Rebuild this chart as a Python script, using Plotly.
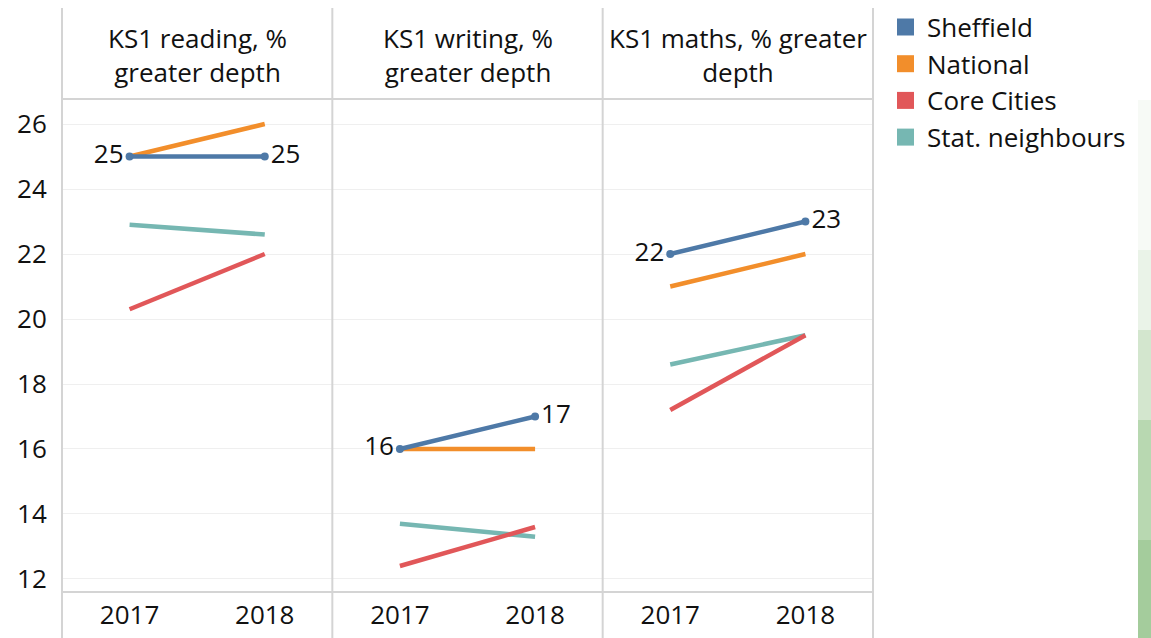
import plotly.graph_objects as go
from plotly.subplots import make_subplots

# 数据
years = ["2017", "2018"]
panels = ["KS1 reading, %<br>greater depth",
          "KS1 writing, %<br>greater depth",
          "KS1 maths, % greater<br>depth"]
series = ["Sheffield", "National", "Core Cities", "Stat. neighbours"]

sheffield = [[25, 25], [16, 17], [22, 23]]
national = [[25, 26], [16, 16], [21, 22]]
core_cities = [[20.3, 22.0], [12.4, 13.6], [17.2, 19.5]]
stat_neighbours = [[22.9, 22.6], [13.7, 13.3], [18.6, 19.5]]

y_ticks = [12, 14, 16, 18, 20, 22, 24, 26]

COLORS = {
    "Sheffield": "#4E79A7",
    "National": "#F28E2B",
    "Core Cities": "#E15759",
    "Stat. neighbours": "#76B7B2",
}
GRID = "#efefef"
BORDER = "#d4d4d4"
TEXT = "#111111"
FONT = "Open Sans"
FS = 26

W, H = 1151, 638
L, R, T, B = 62, 278, 99, 47
PW, PH = W - L - R, H - T - B


def px_x(x):
    return (x - L) / PW


def px_y(y):
    return (H - B - y) / PH


fig = make_subplots(rows=1, cols=3, shared_yaxes=True, horizontal_spacing=0)

# 绘制顺序：底层 -> 顶层
data_by_series = {
    "Stat. neighbours": stat_neighbours,
    "Core Cities": core_cities,
    "National": national,
    "Sheffield": sheffield,
}

for c in range(3):
    for name, vals in data_by_series.items():
        is_sheff = name == "Sheffield"
        fig.add_trace(go.Scatter(
            x=years,
            y=vals[c],
            mode="lines+markers+text" if is_sheff else "lines",
            name=name,
            showlegend=False,
            line=dict(color=COLORS[name], width=4.5),
            marker=dict(size=8, color=COLORS[name]),
            text=[f"{v:g}" for v in vals[c]] if is_sheff else None,
            textposition=["middle left", "middle right"],
            textfont=dict(family=FONT, size=FS, color=TEXT),
            cliponaxis=False,
            hoverinfo="skip",
        ), row=1, col=c + 1)

    fig.update_xaxes(
        type="category", range=[-0.5, 1.5], showgrid=False, zeroline=False,
        showline=True, linecolor=BORDER, linewidth=2, automargin=False,
        ticks="",
        tickfont=dict(family=FONT, size=FS, color=TEXT),
        row=1, col=c + 1,
    )

fig.update_yaxes(
    range=[11.63, 26.77], tickvals=y_ticks, showgrid=True, gridcolor=GRID,
    gridwidth=1, zeroline=False, showline=False, automargin=False,
    tickfont=dict(family=FONT, size=FS, color=TEXT),
)
fig.update_yaxes(ticks="outside", ticklen=9, tickcolor="rgba(0,0,0,0)", row=1, col=1)

shapes = []
# 面板分隔竖线
for xp in [0, 1 / 3, 2 / 3, 1]:
    shapes.append(dict(type="line", xref="paper", yref="paper",
                       x0=xp, x1=xp, y0=px_y(H), y1=px_y(8),
                       line=dict(color=BORDER, width=2)))
# 标题下横线
shapes.append(dict(type="line", xref="paper", yref="paper",
                   x0=0, x1=1, y0=1, y1=1, line=dict(color=BORDER, width=2)))

# 右侧绿色背景残影
for y0, y1, col in [(100, 250, "#f7faf6"), (250, 330, "#eaf3e8"), (330, 420, "#d3e6ce"),
                    (420, 540, "#b8d8b1"), (540, 638, "#a4cc9c")]:
    shapes.append(dict(type="rect", xref="paper", yref="paper",
                       x0=px_x(1138), x1=px_x(1152), y0=px_y(y1), y1=px_y(y0),
                       line=dict(width=0), fillcolor=col, layer="below"))

annotations = []
for i, t in enumerate(panels):
    annotations.append(dict(
        text=t, xref="paper", yref="paper", x=(i + 0.5) / 3, y=px_y(55),
        showarrow=False, xanchor="center", yanchor="middle",
        font=dict(family=FONT, size=FS, color=TEXT),
    ))

# 图例
for i, name in enumerate(series):
    yc = 27 + i * 36.7
    shapes.append(dict(type="rect", xref="paper", yref="paper",
                       x0=px_x(897), x1=px_x(914), y0=px_y(yc + 8.5), y1=px_y(yc - 8.5),
                       line=dict(width=0), fillcolor=COLORS[name]))
    annotations.append(dict(
        text=name, xref="paper", yref="paper", x=px_x(925), y=px_y(yc),
        showarrow=False, xanchor="left", yanchor="middle",
        font=dict(family=FONT, size=FS, color=TEXT),
    ))

fig.update_layout(
    width=W, height=H,
    margin=dict(l=L, r=R, t=T, b=B),
    plot_bgcolor="white", paper_bgcolor="white",
    showlegend=False,
    shapes=shapes,
    annotations=annotations,
    font=dict(family=FONT, size=FS, color=TEXT),
)

fig.write_html("out.html", config={"displayModeBar": False},
               post_script="document.body.style.margin='0';")
